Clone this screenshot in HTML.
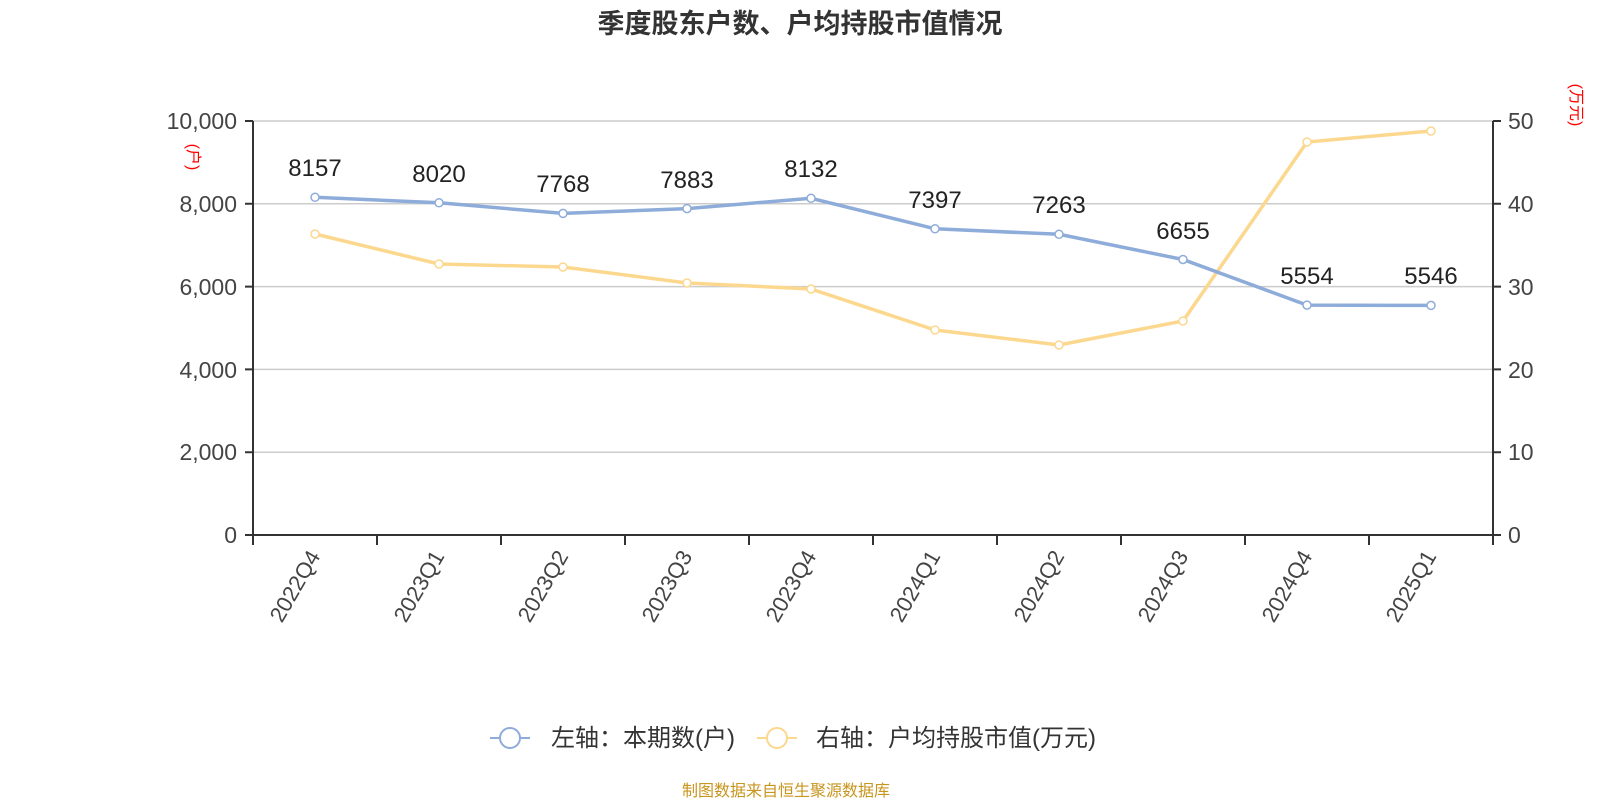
<!DOCTYPE html>
<html><head><meta charset="utf-8"><style>
html,body{margin:0;padding:0;background:#fff;}
svg{display:block;font-family:"Liberation Sans","Noto Sans CJK SC",sans-serif;}
</style></head><body>
<svg width="1600" height="800" viewBox="0 0 1600 800" xmlns="http://www.w3.org/2000/svg">
<text x="800" y="33" text-anchor="middle" font-size="27" font-weight="bold" fill="#333">季度股东户数、户均持股市值情况</text>
<g stroke="#ccc" stroke-width="1.5">
<line x1="253" y1="121" x2="1493" y2="121"/>
<line x1="253" y1="203.8" x2="1493" y2="203.8"/>
<line x1="253" y1="286.6" x2="1493" y2="286.6"/>
<line x1="253" y1="369.4" x2="1493" y2="369.4"/>
<line x1="253" y1="452.2" x2="1493" y2="452.2"/>
</g>
<g stroke="#333" stroke-width="2">
<line x1="253" y1="121" x2="253" y2="545"/>
<line x1="1493" y1="121" x2="1493" y2="545"/>
<line x1="253" y1="535" x2="1493" y2="535"/>
<path d="M245 121H253M245 203.8H253M245 286.6H253M245 369.4H253M245 452.2H253M245 535H253"/>
<path d="M1493 121H1501M1493 203.8H1501M1493 286.6H1501M1493 369.4H1501M1493 452.2H1501M1493 535H1501"/>
<path d="M377 535V545M501 535V545M625 535V545M749 535V545M873 535V545M997 535V545M1121 535V545M1245 535V545M1369 535V545"/>
</g>
<g font-size="23" fill="#444" text-anchor="end">
<text x="237" y="129">10,000</text><text x="237" y="212">8,000</text><text x="237" y="295">6,000</text>
<text x="237" y="378">4,000</text><text x="237" y="460">2,000</text><text x="237" y="543">0</text>
</g>
<g font-size="23" fill="#444">
<text x="1508" y="129">50</text><text x="1508" y="212">40</text><text x="1508" y="295">30</text>
<text x="1508" y="378">20</text><text x="1508" y="460">10</text><text x="1508" y="543">0</text>
</g>
<text transform="translate(188,157) rotate(90)" font-size="16" fill="red" text-anchor="middle">(户)</text>
<text transform="translate(1571,105) rotate(90)" font-size="16" fill="red" text-anchor="middle">(万元)</text>
<g font-size="22" fill="#444" text-anchor="end">
<text transform="translate(321,556) rotate(-60)">2022Q4</text>
<text transform="translate(445,556) rotate(-60)">2023Q1</text>
<text transform="translate(569,556) rotate(-60)">2023Q2</text>
<text transform="translate(693,556) rotate(-60)">2023Q3</text>
<text transform="translate(817,556) rotate(-60)">2023Q4</text>
<text transform="translate(941,556) rotate(-60)">2024Q1</text>
<text transform="translate(1065,556) rotate(-60)">2024Q2</text>
<text transform="translate(1189,556) rotate(-60)">2024Q3</text>
<text transform="translate(1313,556) rotate(-60)">2024Q4</text>
<text transform="translate(1437,556) rotate(-60)">2025Q1</text>
</g>
<polyline fill="none" stroke="#fcd88f" stroke-width="3.5" points="315,234 439,264 563,267 687,283 811,289 935,330 1059,345 1183,321 1307,142 1431,131"/>
<g fill="#fff" stroke="#fcd88f" stroke-width="1.5">
<circle cx="315" cy="234" r="4"/><circle cx="439" cy="264" r="4"/><circle cx="563" cy="267" r="4"/><circle cx="687" cy="283" r="4"/><circle cx="811" cy="289" r="4"/><circle cx="935" cy="330" r="4"/><circle cx="1059" cy="345" r="4"/><circle cx="1183" cy="321" r="4"/><circle cx="1307" cy="142" r="4"/><circle cx="1431" cy="131" r="4"/>
</g>
<polyline fill="none" stroke="#8eacd9" stroke-width="3.5" points="315,197.3 439,202.8 563,213.4 687,208.6 811,198.3 935,228.8 1059,234.3 1183,259.5 1307,305.1 1431,305.4"/>
<g fill="#fff" stroke="#8eacd9" stroke-width="1.5">
<circle cx="315" cy="197.3" r="4"/><circle cx="439" cy="202.8" r="4"/><circle cx="563" cy="213.4" r="4"/><circle cx="687" cy="208.6" r="4"/><circle cx="811" cy="198.3" r="4"/><circle cx="935" cy="228.8" r="4"/><circle cx="1059" cy="234.3" r="4"/><circle cx="1183" cy="259.5" r="4"/><circle cx="1307" cy="305.1" r="4"/><circle cx="1431" cy="305.4" r="4"/>
</g>
<g font-size="24" fill="#222" text-anchor="middle">
<text x="315" y="176">8157</text><text x="439" y="182">8020</text><text x="563" y="192">7768</text>
<text x="687" y="188">7883</text><text x="811" y="177">8132</text><text x="935" y="208">7397</text>
<text x="1059" y="213">7263</text><text x="1183" y="239">6655</text><text x="1307" y="284">5554</text>
<text x="1431" y="284">5546</text>
</g>
<line x1="490" y1="738" x2="530" y2="738" stroke="#8eacd9" stroke-width="2"/>
<circle cx="510" cy="738" r="10" fill="#fff" stroke="#8eacd9" stroke-width="2"/>
<text x="551" y="746" font-size="24" fill="#333">左轴：本期数(户)</text>
<line x1="757" y1="738" x2="797" y2="738" stroke="#fcd88f" stroke-width="2"/>
<circle cx="777" cy="738" r="10" fill="#fff" stroke="#fcd88f" stroke-width="2"/>
<text x="816" y="746" font-size="24" fill="#333">右轴：户均持股市值(万元)</text>
<text x="786" y="796" font-size="16" fill="#c8951e" text-anchor="middle">制图数据来自恒生聚源数据库</text>
</svg>
</body></html>
